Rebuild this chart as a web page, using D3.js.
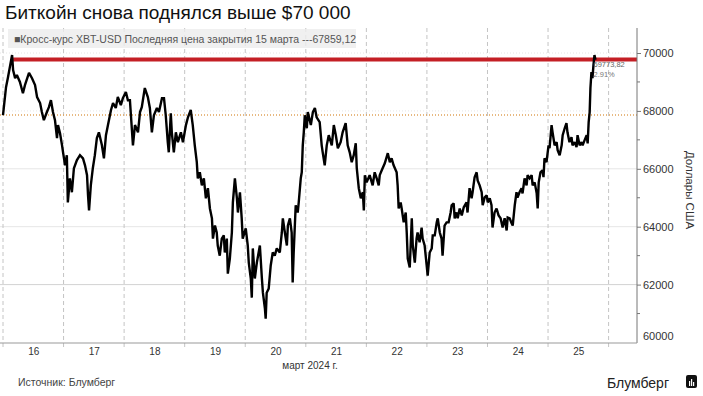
<!DOCTYPE html>
<html>
<head>
<meta charset="utf-8">
<script src="https://cdn.jsdelivr.net/npm/d3@7"></script>
<style>
  body { margin: 0; background: #fff; }
  svg { font-family: "Liberation Sans", Arial, sans-serif; display: block; }
</style>
</head>
<body>
<div id="chart"></div>
<script>
// chart data (hours after 16 March 00:00, price in USD)
var hours = [0,1.2,2.0,3.6,4.0,4.8,5.5,6.7,7.9,8.7,10.3,11.5,12.7,13.5,14.7,15.4,16.2,17.4,18.2,19.0,
  19.8,20.6,21.4,21.8,22.6,23.4,23.8,24.6,25.3,25.7,26.5,27.3,28.1,29.3,30.5,31.7,32.5,33.3,33.7,34.1,
  34.8,35.6,36.4,37.2,38.0,39.2,40.0,40.8,41.6,42.8,43.6,44.7,45.5,46.7,47.5,48.7,49.5,
  50.3,51.5,52.3,53.5,54.3,55.0,56.2,57.4,58.2,59.0,59.8,61.0,61.8,63.0,63.8,64.5,65.3,65.7,66.5,66.9,
  67.7,68.5,69.3,70.5,71.3,72.5,73.3,74.4,75.2,76.0,76.8,77.2,78.0,78.8,79.6,80.4,81.2,82.0,82.8,83.2,
  84.0,84.7,85.1,85.9,86.7,87.5,87.9,88.7,89.1,89.9,90.7,91.1,91.9,92.7,93.1,93.9,94.6,95.0,96.2,97.0,
  97.4,98.2,98.6,
  99.0,99.8,100.6,101.8,102.6,103.0,103.8,104.1,104.5,105.3,106.1,106.9,107.7,108.5,109.7,110.5,110.9,111.7,112.5,112.9,
  113.7,114.4,114.8,115.2,116.0,116.8,117.2,118.0,118.4,118.8,119.2,119.6,120.4,120.8,122.0,122.8,123.6,124.3,125.5,126.3,
  126.7,127.5,128.3,129.1,130.3,131.1,131.9,132.7,133.8,134.6,135.8,136.6,137.4,138.2,139.0,139.8,140.2,141.0,141.8,142.6,
  143.0,143.4,144.1,145.3,146.5,147.3,148.1,148.9,
  149.3,150.1,151.3,152.5,153.3,154.0,154.8,156.0,156.4,156.8,157.6,158.0,158.8,159.6,160.0,160.4,161.2,162.0,162.4,163.2,
  163.9,164.3,165.1,165.9,166.3,167.1,167.9,168.3,169.1,169.9,170.3,171.1,171.9,172.3,173.1,173.8,174.2,175.0,175.8,176.6,
  177.4,177.8,178.6,179.0,179.8,180.2,181.0,181.8,182.6,183.7,184.1,184.9,185.7,186.1,186.9,187.7,188.1,188.9,189.7,190.1,
  190.9,191.7,192.1,192.9,193.6,194.0,194.8,195.6,196.4,197.2,198.0,
  198.8,199.6,200.0,200.8,201.6,202.0,202.8,203.5,203.9,204.7,205.5,205.9,206.7,207.5,207.9,208.7,209.5,209.9,210.7,211.5,
  211.9,212.3,213.0,213.8,214.2,214.6,215.4,216.2,216.6,217.4,217.8,218.6,219.4,219.8,220.6,221.4,221.8,222.6,223.3,223.7,
  224.5,225.3,225.7,226.5,227.3,227.7,228.5,229.3,229.7,230.5,231.3,231.7,232.1,232.5,232.8,233.2,233.6,234.0,234.4,234.8];

var prices = [67850,68820,69170,69930,69410,69130,69240,69000,68610,68890,69310,69130,68890,68480,68270,67960,67680,67960,68130,68370,
  67960,67680,67060,67510,67230,66810,66570,66120,66470,64840,65670,65190,66020,66300,66470,66360,66120,65780,65080,64560,
  65430,66020,66470,67060,67260,66810,66360,67160,67510,68030,68270,68100,68480,68200,68440,68650,68370,
  68370,66810,67510,67260,67960,68130,68790,68480,68100,67260,67850,68100,67960,68440,68440,67850,66920,66570,67920,67260,
  66570,67260,66920,67260,66920,67510,67780,68030,67510,66810,66230,65670,65880,65430,65670,64980,65330,64630,64290,63590,
  64040,63800,63350,63000,63590,63700,63110,63590,62380,62900,63800,64840,65670,64980,64490,65190,64290,63590,63940,63350,
  62760,62210,61550,
  63250,62210,62760,63350,62210,61720,61170,60820,61720,61860,62660,63110,63000,63250,63110,63800,64290,63800,63350,64040,
  64290,63800,62070,63110,64740,64490,64840,65670,65880,66810,67260,67850,67400,67960,67510,67960,68100,67780,67610,66810,
  66570,66120,66810,67160,66810,67510,67160,66710,66920,67260,67580,66810,66570,66230,66470,66880,66020,65330,64980,65190,
  64560,65780,65530,65780,65430,65880,65670,65430,
  65780,65950,66190,66540,66230,66360,66120,65880,65430,64630,64840,64630,64150,64490,63800,62900,62590,64290,63350,62760,
  63590,63800,63460,63970,63590,63350,62660,62310,63110,63250,63700,63700,64150,64290,63800,63590,63000,64040,64150,64150,
  64490,64740,64810,64290,64490,64290,64630,64390,64670,64840,64490,65330,64980,65190,65710,65880,65600,65430,65190,64740,
  65010,65080,64840,64980,64740,63970,64490,64630,64390,64290,63970,
  64290,63870,64320,64290,64110,64040,64740,65190,65010,65190,65330,65150,65670,65430,65780,65670,65780,65430,65530,65150,
  64630,65530,65880,65950,65710,66360,66230,66810,66710,67510,67260,66810,66920,66640,66470,66810,67160,67400,67580,67260,
  66920,67090,66810,66920,66750,67160,66810,66920,66810,66990,67160,66880,67610,67960,68790,69340,69130,69580,69930,69770];

var days = [16, 17, 18, 19, 20, 21, 22, 23, 24, 25];
var yTicks = [60000, 62000, 64000, 66000, 68000, 70000];
var yMinor = [61000, 63000, 65000, 67000, 69000];
var prevClose = 67859.12;
var lastPrice = 69773.82;
var lastChange = "2.91%";

var svgWidth = 703;
var svgHeight = 396;

var plot = { left: 0, right: 637, top: 28, bottom: 343 };

var svg = d3.select("#chart")
  .append("svg")
  .attr("width", svgWidth)
  .attr("height", svgHeight);

var t0 = new Date(2024, 2, 16);
function toDate(h) { return new Date(t0.getTime() + h * 3600e3); }

var data = hours.map(function (h, i) {
  return { date: toDate(h), price: prices[i] };
});

// scales
var xScale = d3.scaleTime()
  .domain([new Date(2024, 2, 16), new Date(2024, 2, 26)])
  .range([3, 608.6]);

var yScale = d3.scaleLinear()
  .domain([60000, 70000])
  .range([342.5, 53]);

// title
svg.append("text")
  .attr("x", 5)
  .attr("y", 19)
  .attr("font-size", 19)
  .attr("fill", "#111")
  .text("Биткойн снова поднялся выше $70 000");

// horizontal gridlines
var grid = svg.append("g");
yTicks.forEach(function (v) {
  if (v === 60000) return;
  grid.append("line")
    .attr("x1", plot.left).attr("x2", plot.right)
    .attr("y1", yScale(v)).attr("y2", yScale(v))
    .attr("stroke", v === 62000 ? "#d2d2d2" : "#e6e6e6")
    .attr("stroke-width", 1)
    .attr("stroke-dasharray", v >= 68000 ? "1,2" : null);
});

// day boundaries (dashed)
var midnights = d3.range(16, 27).map(function (d) { return new Date(2024, 2, d); });
grid.selectAll(".vline")
  .data(midnights)
  .enter()
  .append("line")
  .attr("x1", d => xScale(d)).attr("x2", d => xScale(d))
  .attr("y1", plot.top).attr("y2", plot.bottom + 5)
  .attr("stroke", "#c4c4c4")
  .attr("stroke-width", 1)
  .attr("stroke-dasharray", "4,3");

// legend box
svg.append("rect")
  .attr("x", 8).attr("y", 29)
  .attr("width", 348).attr("height", 19)
  .attr("fill", "#ececec")
  .attr("fill-opacity", 0.8);

svg.append("text")
  .attr("x", 14)
  .attr("y", 42.5)
  .attr("font-size", 10.5)
  .attr("fill", "#555")
  .text("■Кросс-курс XBT-USD Последняя цена закрытия 15 марта ---67859,12");

// previous close line (orange dotted)
svg.append("line")
  .attr("x1", plot.left).attr("x2", plot.right)
  .attr("y1", yScale(prevClose)).attr("y2", yScale(prevClose))
  .attr("stroke", "#e0a35a")
  .attr("stroke-width", 1.3)
  .attr("stroke-dasharray", "1,2");

// last price line (red)
svg.append("line")
  .attr("x1", xScale(toDate(4))).attr("x2", plot.right)
  .attr("y1", yScale(lastPrice)).attr("y2", yScale(lastPrice))
  .attr("stroke", "#c41f25")
  .attr("stroke-width", 4);

// price line
var line = d3.line()
  .x(d => xScale(d.date))
  .y(d => yScale(d.price));

svg.append("path")
  .datum(data)
  .attr("d", line)
  .attr("fill", "none")
  .attr("stroke", "#000")
  .attr("stroke-width", 2.4)
  .attr("stroke-linejoin", "miter")
  .attr("stroke-miterlimit", 2);

// last value annotation
var lastX = xScale(data[data.length - 1].date);
svg.append("text")
  .attr("x", lastX - 2)
  .attr("y", yScale(lastPrice) + 7)
  .attr("font-size", 7.5)
  .attr("fill", "#666")
  .text(lastPrice.toFixed(2).replace(".", ","));
svg.append("text")
  .attr("x", lastX - 2)
  .attr("y", yScale(lastPrice) + 17)
  .attr("font-size", 7.5)
  .attr("fill", "#777")
  .text(lastChange);

// right axis
var rightAxis = d3.axisRight(yScale)
  .tickValues(yTicks)
  .tickSize(4)
  .tickPadding(2)
  .tickFormat(d3.format("d"));

var yAxis = svg.append("g")
  .attr("transform", `translate(${plot.right}, 0)`)
  .call(rightAxis);

yAxis.select(".domain").remove();
yAxis.selectAll("line").attr("stroke", "#777");
yAxis.selectAll("text")
  .attr("font-size", 11)
  .attr("fill", "#333")
  .attr("font-family", "Liberation Sans, Arial, sans-serif");
yAxis.selectAll(".tick")
  .filter(d => d === 60000)
  .select("text")
  .attr("dy", "-0.25em");
yAxis.selectAll(".tick")
  .filter(d => d === 60000)
  .select("line").remove();

svg.append("g")
  .selectAll("line")
  .data(yMinor)
  .enter()
  .append("line")
  .attr("x1", plot.right).attr("x2", plot.right + 3)
  .attr("y1", d => yScale(d)).attr("y2", d => yScale(d))
  .attr("stroke", "#777");

svg.append("line")
  .attr("x1", plot.right).attr("x2", plot.right)
  .attr("y1", plot.top).attr("y2", plot.bottom)
  .attr("stroke", "#777");

// bottom axis
svg.append("line")
  .attr("x1", plot.left).attr("x2", plot.right)
  .attr("y1", plot.bottom).attr("y2", plot.bottom)
  .attr("stroke", "#999");

var bottomAxis = d3.axisBottom(xScale)
  .tickValues(days.map(d => new Date(2024, 2, d, 12)))
  .tickSize(0)
  .tickPadding(5)
  .tickFormat(d3.timeFormat("%-d"));

var xAxis = svg.append("g")
  .attr("transform", `translate(0, ${plot.bottom})`)
  .call(bottomAxis);
xAxis.select(".domain").remove();
xAxis.selectAll("text")
  .attr("font-size", 10)
  .attr("fill", "#333")
  .attr("font-family", "Liberation Sans, Arial, sans-serif");

svg.append("text")
  .attr("x", 310)
  .attr("y", 369)
  .attr("text-anchor", "middle")
  .attr("font-size", 10)
  .attr("fill", "#333")
  .text("март 2024 г.");

// axis title
svg.append("text")
  .attr("transform", "translate(686, 190) rotate(90)")
  .attr("text-anchor", "middle")
  .attr("font-size", 11.5)
  .attr("fill", "#333")
  .text("Доллары США");

// footer
svg.append("text")
  .attr("x", 18)
  .attr("y", 386)
  .attr("font-size", 10.5)
  .attr("fill", "#444")
  .text("Источник: Блумберг");

svg.append("text")
  .attr("x", 669)
  .attr("y", 388)
  .attr("text-anchor", "end")
  .attr("font-size", 14)
  .attr("fill", "#222")
  .text("Блумберг");

var logo = svg.append("g").attr("transform", "translate(686, 375)");
logo.append("rect")
  .attr("width", 11).attr("height", 13).attr("rx", 2)
  .attr("fill", "#111");
[[3, 6, 5], [5, 4, 7], [7, 7, 4]].forEach(function (b) {
  logo.append("rect")
    .attr("x", b[0]).attr("y", b[1])
    .attr("width", 1.2).attr("height", b[2])
    .attr("fill", "#fff");
});
</script>
</body>
</html>
